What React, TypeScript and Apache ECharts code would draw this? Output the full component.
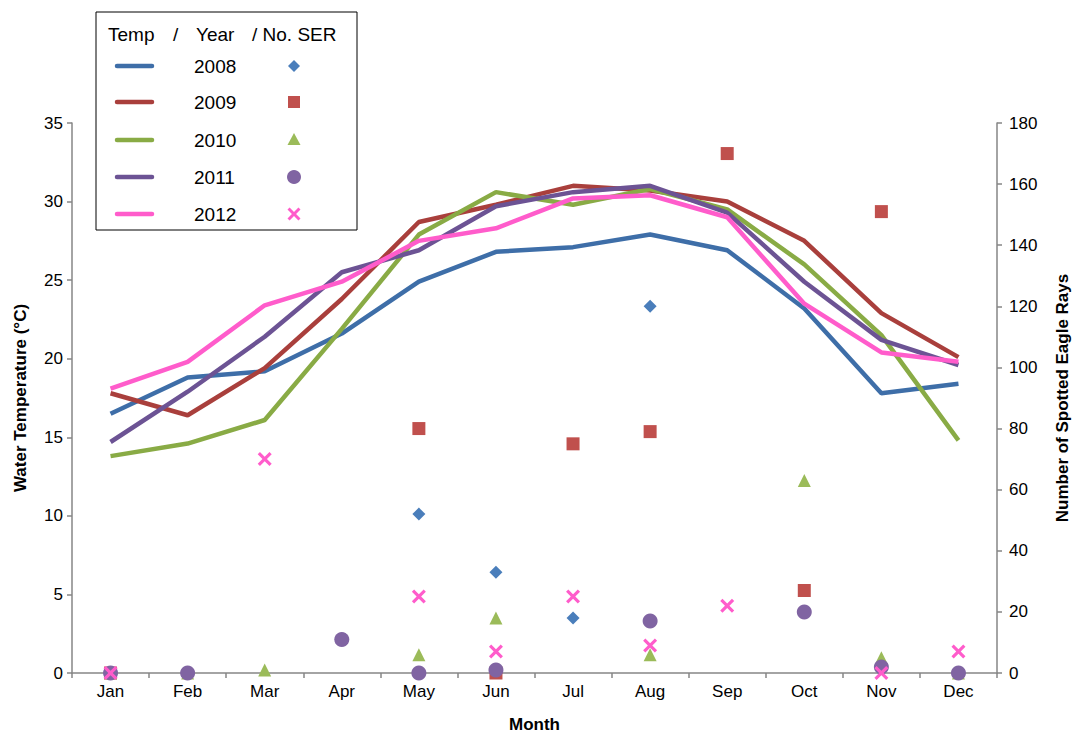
import React, { useEffect, useRef } from "react";
import * as echarts from "echarts";

const months = ["Jan", "Feb", "Mar", "Apr", "May", "Jun", "Jul", "Aug", "Sep", "Oct", "Nov", "Dec"];
const years = ["2008", "2009", "2010", "2011", "2012"];

const temp2008 = [16.5, 18.8, 19.2, 21.6, 24.9, 26.8, 27.1, 27.9, 26.9, 23.2, 17.8, 18.4];
const temp2009 = [17.8, 16.4, 19.4, 23.8, 28.7, 29.8, 31.0, 30.7, 30.0, 27.5, 22.9, 20.1];
const temp2010 = [13.8, 14.6, 16.1, 21.9, 27.9, 30.6, 29.8, 30.8, 29.5, 26.0, 21.5, 14.8];
const temp2011 = [14.7, 17.9, 21.4, 25.5, 26.9, 29.7, 30.6, 31.0, 29.3, 24.9, 21.2, 19.6];
const temp2012 = [18.1, 19.8, 23.4, 24.9, 27.5, 28.3, 30.2, 30.4, 29.0, 23.5, 20.4, 19.8];

const ser2008 = [0, null, null, null, 52, 33, 18, 120, null, null, null, null];
const ser2009 = [0, null, null, null, 80, 0, 75, 79, 170, 27, 151, null];
const ser2010 = [0, 0, 1, null, 6, 18, null, 6, null, 63, 5, 0];
const ser2011 = [0, 0, null, 11, 0, 1, null, 17, null, 20, 2, 0];
const ser2012 = [0, null, 70, null, 25, 7, 25, 9, 22, null, 0, 7];

const tempAxisTicks = { min: 0, max: 35, interval: 5 };
const serAxisTicks = { min: 0, max: 180, interval: 20 };

const lineColors = ["#3E6EA8", "#A93F3C", "#89AB45", "#6C5394", "#FF5CCB"];
const markerColors = ["#4A7EBB", "#C0504D", "#9BBB59", "#8064A2", "#FF5CCB"];
const crossPath = "path://M1.6,0 L5,3.4 L8.4,0 L10,1.6 L6.6,5 L10,8.4 L8.4,10 L5,6.6 L1.6,10 L0,8.4 L3.4,5 L0,1.6 Z";
const markerSymbols = ["diamond", "rect", "triangle", "circle", crossPath];
const markerSizes = [13, 13, 13, 15, 14];

const temps = [temp2008, temp2009, temp2010, temp2011, temp2012];
const sers = [ser2008, ser2009, ser2010, ser2011, ser2012];

const FONT = "Liberation Sans, Arial, sans-serif";

function legendGraphic() {
  const els: any[] = [];
  els.push({
    type: "rect",
    shape: { x: 96, y: 12, width: 261, height: 218 },
    style: { fill: "#fff", stroke: "#000", lineWidth: 1 },
    z: 100,
  });
  const header = [
    { t: "Temp", x: 108 },
    { t: "/", x: 173 },
    { t: "Year", x: 196 },
    { t: "/ No. SER", x: 252 },
  ];
  header.forEach((h) =>
    els.push({
      type: "text",
      x: h.x,
      y: 34,
      style: { text: h.t, fill: "#000", font: `19px ${FONT}`, textVerticalAlign: "middle" },
      z: 101,
    })
  );
  const rowsY = [66, 102, 140, 177, 214];
  years.forEach((yr, i) => {
    const y = rowsY[i];
    els.push({
      type: "line",
      shape: { x1: 117, y1: y, x2: 152, y2: y },
      style: { stroke: lineColors[i], lineWidth: 4.5, lineCap: "round" },
      z: 101,
    });
    els.push({
      type: "text",
      x: 194,
      y: y,
      style: { text: yr, fill: "#000", font: `19px ${FONT}`, textVerticalAlign: "middle" },
      z: 101,
    });
    const cx = 294;
    const c = markerColors[i];
    let m: any;
    if (i === 0) {
      m = { type: "polygon", shape: { points: [[cx, y - 6], [cx + 6, y], [cx, y + 6], [cx - 6, y]] } };
    } else if (i === 1) {
      m = { type: "rect", shape: { x: cx - 6, y: y - 6, width: 12, height: 12 } };
    } else if (i === 2) {
      m = { type: "polygon", shape: { points: [[cx, y - 7], [cx + 6.5, y + 5], [cx - 6.5, y + 5]] } };
    } else if (i === 3) {
      m = { type: "circle", shape: { cx, cy: y, r: 7 } };
    } else {
      const s = 1.3;
      const pts = [[1.6, 0], [5, 3.4], [8.4, 0], [10, 1.6], [6.6, 5], [10, 8.4], [8.4, 10], [5, 6.6], [1.6, 10], [0, 8.4], [3.4, 5], [0, 1.6]].map(
        (p) => [cx - 6.5 + p[0] * s, y - 6.5 + p[1] * s]
      );
      m = { type: "polygon", shape: { points: pts } };
    }
    m.style = { fill: c };
    m.z = 101;
    els.push(m);
  });
  return els;
}

export default function App() {
  const ref = useRef<HTMLDivElement>(null);
  useEffect(() => {
    if (!ref.current) return;
    const chart = echarts.init(ref.current, undefined, { renderer: "svg" });
    const axisLine = { show: true, lineStyle: { color: "#868686", width: 1.5 } };
    const labelStyle = { color: "#000", fontSize: 17, fontFamily: FONT };
    const nameStyle = { color: "#000", fontSize: 17, fontWeight: "bold" as const, fontFamily: FONT };
    const series: any[] = [];
    years.forEach((yr, i) => {
      series.push({
        name: yr + " temp",
        type: "line",
        yAxisIndex: 0,
        data: temps[i],
        showSymbol: false,
        symbol: "none",
        lineStyle: { color: lineColors[i], width: 4.5 },
        z: 2,
      });
    });
    years.forEach((yr, i) => {
      series.push({
        name: yr + " SER",
        type: "scatter",
        yAxisIndex: 1,
        data: sers[i],
        symbol: markerSymbols[i],
        symbolSize: markerSizes[i],
        itemStyle: { color: markerColors[i], opacity: 1 },
        z: 3 + i,
      });
    });
    chart.setOption({
      animation: false,
      backgroundColor: "#fff",
      grid: { left: 72, right: 75, top: 123, bottom: 62, containLabel: false, outerBoundsMode: "none" },
      xAxis: {
        type: "category",
        data: months,
        boundaryGap: true,
        name: "Month",
        nameLocation: "middle",
        nameGap: 43,
        nameTextStyle: nameStyle,
        axisLine,
        axisTick: { show: true, length: 5, lineStyle: { color: "#868686", width: 1.5 } },
        axisLabel: { ...labelStyle, margin: 10 },
        splitLine: { show: false },
      },
      yAxis: [
        {
          type: "value",
          position: "left",
          ...tempAxisTicks,
          name: "Water Temperature (\u00B0C)",
          nameLocation: "middle",
          nameRotate: 90,
          nameGap: 43,
          nameTextStyle: nameStyle,
          axisLine,
          axisTick: { show: true, length: 5, lineStyle: { color: "#868686", width: 1.5 } },
          axisLabel: { ...labelStyle, margin: 9 },
          splitLine: { show: false },
        },
        {
          type: "value",
          position: "right",
          ...serAxisTicks,
          name: "Number of Spotted Eagle Rays",
          nameLocation: "middle",
          nameRotate: 90,
          nameGap: 57,
          nameTextStyle: nameStyle,
          axisLine,
          axisTick: { show: true, length: 5, lineStyle: { color: "#868686", width: 1.5 } },
          axisLabel: { ...labelStyle, margin: 12 },
          splitLine: { show: false },
        },
      ],
      series,
      graphic: legendGraphic(),
    });
    return () => chart.dispose();
  }, []);
  return (
    <div
      ref={ref}
      style={{ position: "fixed", left: 0, top: 0, width: 1072, height: 735, background: "#fff" }}
    />
  );
}
